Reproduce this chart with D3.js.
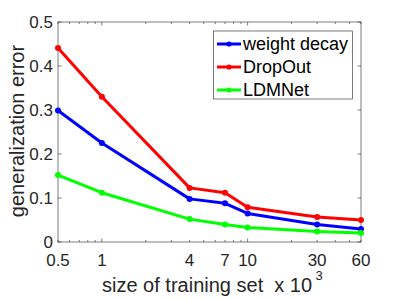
<!DOCTYPE html>
<html><head><meta charset="utf-8">
<script src="https://cdn.jsdelivr.net/npm/d3@7"></script>
<style>body{margin:0;background:#fff}svg{display:block}text{font-family:"Liberation Sans",Arial,sans-serif;white-space:pre}</style>
</head><body><svg id="c" width="399" height="299"></svg>
<script>
const xValues = [0.5, 1, 4, 7, 10, 30, 60];
const xTickLabels = ["0.5", "1", "4", "7", "10", "30", "60"];
const yTicks = [0, 0.1, 0.2, 0.3, 0.4, 0.5];
const seriesNames = ["weight decay", "DropOut", "LDMNet"];
const weightDecay = [0.299, 0.225, 0.098, 0.088, 0.065, 0.040, 0.0295];
const dropOut = [0.441, 0.330, 0.123, 0.112, 0.079, 0.057, 0.050];
const ldmNet = [0.152, 0.112, 0.052, 0.040, 0.033, 0.024, 0.0205];
const colors = ["#0000ff", "#ff0000", "#00ff00"];

const svg = d3.select("#c");
const L = 58, R = 361, T = 22, B = 242;
const x = d3.scaleLog().domain([0.5, 60]).range([L, R]);
const y = d3.scaleLinear().domain([0, 0.5]).range([B, T]);
const axisColor = "#262626";

// box
svg.append("rect").attr("x", L).attr("y", T).attr("width", R - L).attr("height", B - T)
  .attr("fill", "none").attr("stroke", "#262626").attr("stroke-width", 0.6);

// minor ticks (log)
const minor = [];
for (let d = 0.1; d <= 10; d *= 10) for (let k = 1; k <= 9; k++) { const v = +(k * d).toPrecision(3); if (v >= 0.5 && v <= 60) minor.push(v); }
const tg = svg.append("g").attr("stroke", axisColor).attr("stroke-width", 0.6);
minor.forEach(v => {
  const len = (v === 1 || v === 10) ? 3.5 : 2;
  tg.append("line").attr("x1", x(v)).attr("x2", x(v)).attr("y1", B).attr("y2", B - len);
  tg.append("line").attr("x1", x(v)).attr("x2", x(v)).attr("y1", T).attr("y2", T + len);
});
yTicks.forEach(v => {
  tg.append("line").attr("x1", L).attr("x2", L + 3.5).attr("y1", y(v)).attr("y2", y(v));
  tg.append("line").attr("x1", R).attr("x2", R - 3.5).attr("y1", y(v)).attr("y2", y(v));
});

// tick labels
svg.append("g").selectAll("text").data(yTicks).join("text")
  .attr("x", L - 5).attr("y", d => y(d)).attr("dy", "0.34em").attr("text-anchor", "end")
  .attr("font-size", 17).attr("fill", axisColor).text(d => d === 0 ? "0" : d3.format(".1f")(d));
svg.append("g").selectAll("text").data(xValues).join("text")
  .attr("x", d => x(d)).attr("y", 265.5).attr("text-anchor", "middle")
  .attr("font-size", 17).attr("fill", axisColor).text((d, i) => xTickLabels[i]);

// axis labels
svg.append("text").attr("x", 102).attr("y", 292).attr("font-size", 20).attr("fill", axisColor)
  .text("size of training set  x 10");
svg.append("text").attr("x", 315.5).attr("y", 280).attr("font-size", 13).attr("fill", axisColor).text("3");
svg.append("text").attr("transform", `translate(24,131) rotate(-90)`)
  .attr("text-anchor", "middle").attr("font-size", 20).attr("fill", axisColor).text("generalization error");

// series
const data = [weightDecay, dropOut, ldmNet];
const line = d3.line().x((d, i) => x(xValues[i])).y(d => y(d));
data.forEach((s, k) => {
  const g = svg.append("g");
  g.append("path").datum(s).attr("d", line).attr("fill", "none").attr("stroke", colors[k])
    .attr("stroke-width", 3).attr("stroke-linejoin", "round");
  g.selectAll("circle").data(s).join("circle").attr("cx", (d, i) => x(xValues[i])).attr("cy", d => y(d))
    .attr("r", 3).attr("fill", colors[k]);
});

// legend
const lg = svg.append("g");
lg.append("rect").attr("x", 213.5).attr("y", 31).attr("width", 139).attr("height", 68)
  .attr("fill", "#fff").attr("stroke", "#262626").attr("stroke-width", 0.6);
seriesNames.forEach((n, k) => {
  const yy = 44 + k * 23;
  lg.append("line").attr("x1", 217).attr("x2", 241).attr("y1", yy).attr("y2", yy)
    .attr("stroke", colors[k]).attr("stroke-width", 3);
  lg.append("circle").attr("cx", 229).attr("cy", yy).attr("r", 2.6).attr("fill", colors[k]);
  lg.append("text").attr("x", 243).attr("y", yy).attr("dy", "0.36em").attr("font-size", 18)
    .attr("fill", "#000").text(n);
});
</script></body></html>
